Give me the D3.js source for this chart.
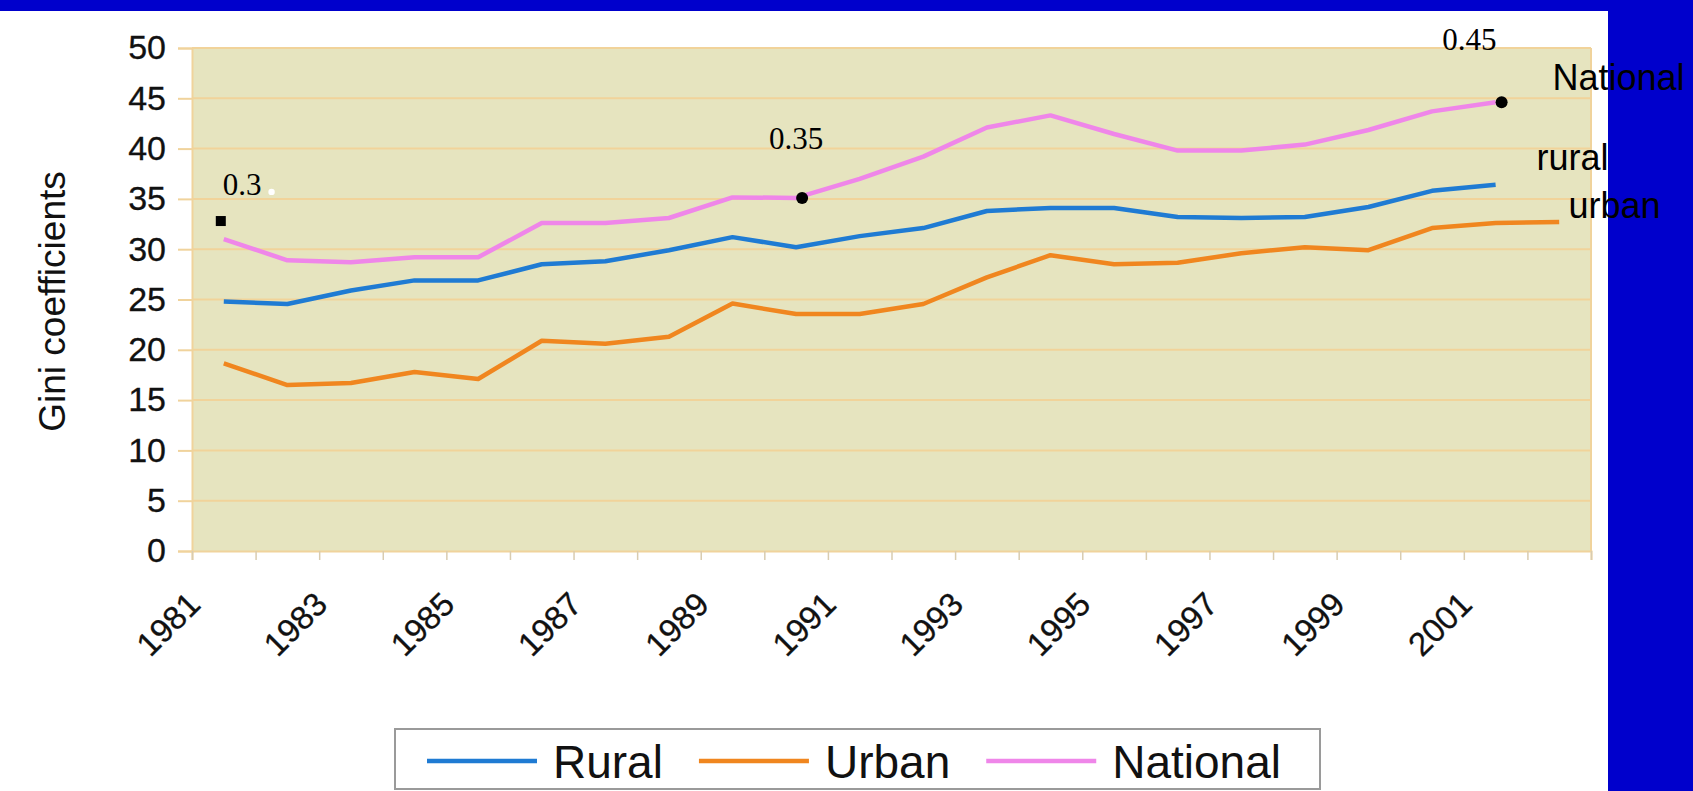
<!DOCTYPE html>
<html>
<head>
<meta charset="utf-8">
<script src="https://cdn.jsdelivr.net/npm/d3@7"></script>
<style>
  html, body { margin: 0; padding: 0; background: #ffffff; }
  svg { display: block; }
</style>
</head>
<body>
<svg id="chart" width="1693" height="791"></svg>
<script>
// ---- data ----
const categories = ["1981","1982","1983","1984","1985","1986","1987","1988","1989","1990","1991",
                    "1992","1993","1994","1995","1996","1997","1998","1999","2000","2001","2002"];
const xTickLabels = ["1981","1983","1985","1987","1989","1991","1993","1995","1997","1999","2001"];
const yTicks = [0, 5, 10, 15, 20, 25, 30, 35, 40, 45, 50];
const rural = [24.8, 24.55, 25.9, 26.9, 26.9, 28.5, 28.8, 29.9, 31.2, 30.2, 31.3,
               32.1, 33.8, 34.1, 34.1, 33.2, 33.1, 33.2, 34.2, 35.8, 36.4];
const urban = [18.65, 16.5, 16.7, 17.8, 17.1, 20.9, 20.6, 21.3, 24.6, 23.55, 23.55,
               24.55, 27.2, 29.4, 28.5, 28.65, 29.6, 30.2, 29.9, 32.1, 32.6, 32.7];
const national = [31.0, 28.9, 28.7, 29.2, 29.2, 32.6, 32.6, 33.1, 35.15, 35.1, 37.0,
                  39.2, 42.1, 43.3, 41.45, 39.8, 39.8, 40.4, 41.85, 43.7, 44.6];
const seriesNames = ["Rural", "Urban", "National"];
const annotationTexts = ["0.3", "0.35", "0.45"];
const annotationYears = ["1981", "1990", "2001"];
const annotationValues = [35.4, 40.0, 49.8];
const dotYears = ["1990", "2001"];
const squareYear = "1981";
const squareValue = 32.8;
const endLabels = ["National", "rural", "urban"];
const endLabelValues = [45.8, 37.9, 33.1];

// ---- styles ----
const colors = { Rural: "#1f7bd3", Urban: "#f0861f", National: "#ef86e9" };
const seriesData = { Rural: rural, Urban: urban, National: national };
const SANS = "'Liberation Sans', Arial, sans-serif";
const SERIF = "'Liberation Serif', 'Times New Roman', serif";

const svg = d3.select("#chart");
const W = 1693, H = 791;
const plot = { left: 192, right: 1591, top: 48, bottom: 551 };

svg.append("rect").attr("x", 0).attr("y", 0).attr("width", W).attr("height", H).attr("fill", "#ffffff");

const x = d3.scaleBand().domain(categories).range([plot.left, plot.right]).padding(0);
const xb = d3.scaleLinear().domain([0, categories.length]).range([plot.left, plot.right]);
const y = d3.scaleLinear().domain([0, 50]).range([plot.bottom, plot.top]);
const cx = c => x(c) + x.bandwidth() / 2;

// plot area
svg.append("rect")
  .attr("x", plot.left).attr("y", plot.top)
  .attr("width", plot.right - plot.left).attr("height", plot.bottom - plot.top)
  .attr("fill", "#e6e4bf");

// y axis
const yAxis = d3.axisLeft(y).tickValues(yTicks).tickSize(14).tickPadding(12);
const gy = svg.append("g").attr("transform", `translate(${plot.left},0)`).call(yAxis);
gy.select(".domain").attr("stroke", "#f0d39c").attr("stroke-width", 2);
gy.selectAll(".tick line").attr("stroke", "#f0d39c").attr("stroke-width", 2);
gy.selectAll(".tick text")
  .attr("font-family", SANS).attr("font-size", 34).attr("fill", "#111")
  .attr("stroke", "#111").attr("stroke-width", 0.3);

// gridlines
svg.append("g").selectAll("line.grid").data(yTicks.filter(v => v > 0)).join("line")
  .attr("x1", plot.left).attr("x2", plot.right)
  .attr("y1", d => y(d)).attr("y2", d => y(d))
  .attr("stroke", "#f1d39a").attr("stroke-width", 2);

svg.append("line").attr("x1", plot.right).attr("x2", plot.right)
  .attr("y1", plot.top).attr("y2", plot.bottom)
  .attr("stroke", "#f0d39c").attr("stroke-width", 2);

// x axis (ticks at category boundaries)
const xAxis = d3.axisBottom(xb).tickValues(d3.range(0, categories.length + 1)).tickSize(9).tickFormat("");
const gx = svg.append("g").attr("transform", `translate(0,${plot.bottom})`).call(xAxis);
gx.select(".domain").attr("stroke", "#f0d39c").attr("stroke-width", 2);
gx.selectAll(".tick line").attr("stroke", "#d9ccb0").attr("stroke-width", 1.5);

svg.append("g").selectAll("text").data(xTickLabels).join("text")
  .attr("transform", d => `translate(${xb(categories.indexOf(d)) + 2},${plot.bottom + 47}) rotate(-45)`)
  .attr("text-anchor", "end")
  .attr("dy", "0.35em")
  .attr("font-family", SANS).attr("font-size", 33).attr("fill", "#111")
  .attr("stroke", "#111").attr("stroke-width", 0.3)
  .text(d => d);

// y axis title
svg.append("text")
  .attr("transform", `translate(65,${(plot.top + plot.bottom) / 2 + 2}) rotate(-90)`)
  .attr("text-anchor", "middle")
  .attr("font-family", SANS).attr("font-size", 37).attr("fill", "#111")
  .text("Gini coefficients");

// lines
const line = d3.line().x((d, i) => cx(categories[i])).y(d => y(d));
seriesNames.forEach(name => {
  svg.append("path")
    .datum(seriesData[name])
    .attr("d", line)
    .attr("fill", "none")
    .attr("stroke", colors[name])
    .attr("stroke-width", 4.5)
    .attr("stroke-linejoin", "round");
});

// annotations
svg.append("g").selectAll("circle").data(dotYears).join("circle")
  .attr("cx", d => cx(d) + 6)
  .attr("cy", d => y(national[categories.indexOf(d)]))
  .attr("r", 6).attr("fill", "#000");

svg.append("rect")
  .attr("x", cx(squareYear) - 8).attr("y", y(squareValue) - 5)
  .attr("width", 10).attr("height", 10).attr("fill", "#000");

annotationTexts.forEach((t, i) => {
  const yr = annotationYears[i];
  const tx = svg.append("text")
    .attr("font-family", SERIF).attr("font-size", 31).attr("fill", "#000")
    .attr("y", y(annotationValues[i]))
    .text(t);
  if (i === 0) {
    tx.attr("x", cx(yr) - 1).attr("text-anchor", "start");
    const len = tx.node().getComputedTextLength();
    svg.append("circle").attr("cx", cx(yr) - 1 + len + 10).attr("cy", y(annotationValues[i]) - 3)
      .attr("r", 3.2).attr("fill", "#fff");
  } else if (i === 1) {
    tx.attr("x", cx(yr)).attr("text-anchor", "middle");
  } else {
    tx.attr("x", cx(yr) + 1).attr("text-anchor", "end");
  }
});

// blue frame
svg.append("rect").attr("x", 0).attr("y", 0).attr("width", W).attr("height", 11).attr("fill", "#0000cc");
svg.append("rect").attr("x", 1608).attr("y", 0).attr("width", W - 1608).attr("height", H).attr("fill", "#0000cc");

// end labels
const lastCat = categories[categories.length - 1];
const endOffsets = [25, 9, 41];
endLabels.forEach((t, i) => {
  svg.append("text")
    .attr("x", x(lastCat) + endOffsets[i])
    .attr("y", y(endLabelValues[i]))
    .attr("font-family", SANS).attr("font-size", 36).attr("fill", "#000")
    .text(t);
});

// legend
const legend = svg.append("g");
const lg = { x: 395, y: 729, w: 925, h: 60 };
legend.append("rect")
  .attr("x", lg.x).attr("y", lg.y).attr("width", lg.w).attr("height", lg.h)
  .attr("fill", "#fff").attr("stroke", "#9a9a9a").attr("stroke-width", 2);
let cursor = lg.x + 32;
const midY = lg.y + 32;
seriesNames.forEach(name => {
  legend.append("line")
    .attr("x1", cursor).attr("x2", cursor + 110)
    .attr("y1", midY).attr("y2", midY)
    .attr("stroke", colors[name]).attr("stroke-width", 4.5);
  const t = legend.append("text")
    .attr("x", cursor + 126).attr("y", midY + 17)
    .attr("font-family", SANS).attr("font-size", 46).attr("fill", "#111")
    .text(name);
  cursor += 126 + t.node().getComputedTextLength() + 36;
});
</script>
</body>
</html>
